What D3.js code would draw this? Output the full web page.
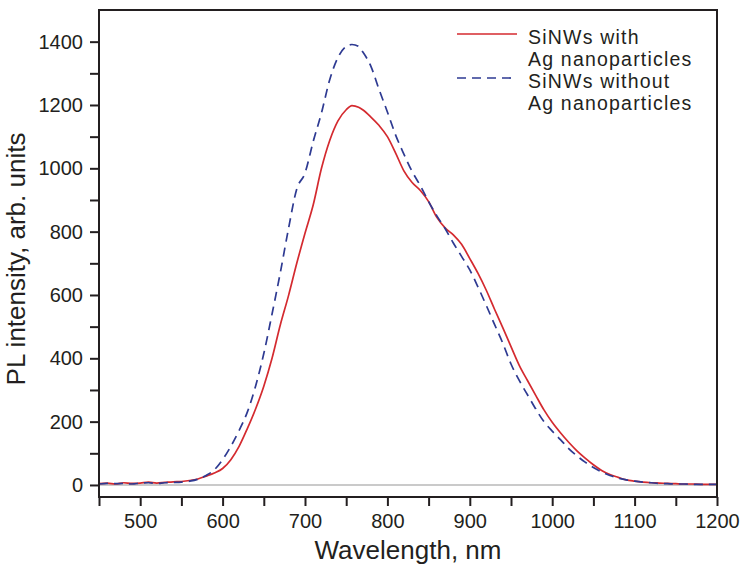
<!DOCTYPE html>
<html>
<head>
<meta charset="utf-8">
<script src="https://cdn.jsdelivr.net/npm/d3@7"></script>
<style>
  html, body { margin: 0; padding: 0; background: #fff; }
  svg { display: block; font-family: "Liberation Sans", Arial, Helvetica, sans-serif; }
</style>
</head>
<body>
<svg id="chart" width="750" height="568"></svg>
<script>
// Wavelength grid (nm)
const wavelengths = [450,460,470,480,490,500,510,520,530,540,550,560,570,580,590,600,610,620,630,640,650,660,670,680,690,700,710,720,730,740,750,757,765,770,780,790,800,810,820,830,840,850,860,870,880,890,900,910,920,930,940,950,960,970,980,990,1000,1010,1020,1030,1040,1050,1060,1070,1080,1090,1100,1110,1120,1130,1140,1150,1160,1170,1180,1190,1200];

// PL intensity, SiNWs with Ag nanoparticles (red solid)
const withAg = [4,6,3,7,5,6,9,6,8,10,11,14,19,28,38,52,80,122,178,240,312,400,505,598,700,795,885,1000,1088,1150,1185,1198,1193,1185,1162,1135,1100,1048,992,955,930,895,845,812,790,760,715,668,615,555,497,437,378,330,283,237,198,165,135,108,85,64,46,33,24,16,12,9,7,6,5,4,3,3,2,2,2];

// PL intensity, SiNWs without Ag nanoparticles (blue dashed)
const withoutAg = [3,5,4,5,3,6,7,5,7,8,9,12,18,30,48,80,122,172,230,312,415,540,670,810,935,985,1085,1175,1280,1350,1385,1391,1385,1368,1322,1248,1178,1105,1045,990,945,895,850,810,764,722,679,625,567,507,448,382,330,285,240,200,170,143,115,92,72,55,41,30,22,16,12,9,7,5,4,3,3,2,2,2,2];

const xTicks = [500,600,700,800,900,1000,1100,1200];
const xMinor = [450,550,650,750,850,950,1050,1150];
const yTicks = [0,200,400,600,800,1000,1200,1400];
const yMinor = [100,300,500,700,900,1100,1300];

const legendLabels = [["SiNWs with", "Ag nanoparticles"], ["SiNWs without", "Ag nanoparticles"]];
const colors = { red: "#d42a2f", blue: "#2e3a92", axis: "#231f20", zero: "#b9b9b9" };

const svg = d3.select("#chart");
const margin = { left: 99, right: 33, top: 10, bottom: 71 };
const W = 750, H = 568;
const x = d3.scaleLinear().domain([450, 1200]).range([margin.left, W - margin.right]);
const y = d3.scaleLinear().domain([-38, 1500]).range([H - margin.bottom, margin.top]);

// zero line
svg.append("line")
  .attr("x1", x(450)).attr("x2", x(1200))
  .attr("y1", y(0)).attr("y2", y(0))
  .attr("stroke", colors.zero).attr("stroke-width", 1.4);

// curves
const dataWith = wavelengths.map((w, i) => [w, withAg[i]]);
const dataWithout = wavelengths.map((w, i) => [w, withoutAg[i]]);
const line = d3.line().x(d => x(d[0])).y(d => y(d[1])).curve(d3.curveMonotoneX);

svg.append("path").datum(dataWith)
  .attr("d", line).attr("fill", "none")
  .attr("stroke", colors.red).attr("stroke-width", 1.7);

svg.append("path").datum(dataWithout)
  .attr("d", line).attr("fill", "none")
  .attr("stroke", colors.blue).attr("stroke-width", 1.7)
  .attr("stroke-dasharray", "9,6");

// axes
const tickLen = 9;
const xAxis = d3.axisBottom(x).tickValues(xTicks).tickSize(tickLen).tickPadding(8).tickFormat(d3.format("d"));
const xAxisMinor = d3.axisBottom(x).tickValues(xMinor).tickSize(tickLen).tickFormat("");
const yAxis = d3.axisLeft(y).tickValues(yTicks).tickSize(tickLen).tickPadding(7).tickFormat(d3.format("d"));
const yAxisMinor = d3.axisLeft(y).tickValues(yMinor).tickSize(tickLen).tickFormat("");

function styleAxis(g) {
  g.select(".domain").remove();
  g.selectAll(".tick line").attr("stroke", colors.axis).attr("stroke-width", 2);
  g.selectAll(".tick text").attr("fill", colors.axis).style("font-size", "20px")
    .style("font-family", "'Liberation Sans', Arial, sans-serif");
}

svg.append("g").attr("transform", `translate(0,${H - margin.bottom})`).call(xAxis).call(styleAxis);
svg.append("g").attr("transform", `translate(0,${H - margin.bottom})`).call(xAxisMinor).call(styleAxis);
svg.append("g").attr("transform", `translate(${margin.left},0)`).call(yAxis).call(styleAxis);
svg.append("g").attr("transform", `translate(${margin.left},0)`).call(yAxisMinor).call(styleAxis);

// frame
svg.append("rect")
  .attr("x", margin.left).attr("y", margin.top)
  .attr("width", W - margin.left - margin.right)
  .attr("height", H - margin.top - margin.bottom)
  .attr("fill", "none").attr("stroke", colors.axis).attr("stroke-width", 2);

// axis titles
svg.append("text")
  .attr("x", (margin.left + W - margin.right) / 2).attr("y", 559)
  .attr("text-anchor", "middle").attr("fill", colors.axis)
  .style("font-size", "26px").text("Wavelength, nm");

svg.append("text")
  .attr("transform", `translate(25,259) rotate(-90)`)
  .attr("text-anchor", "middle").attr("fill", colors.axis)
  .style("font-size", "26px").text("PL intensity, arb. units");

// legend
const legend = svg.append("g");
const legendStyles = [{ color: colors.red, dash: null }, { color: colors.blue, dash: "9,6" }];
const lineGap = 22;
legendLabels.forEach((lines, i) => {
  const by = 44 + i * 2 * lineGap;
  legend.append("line")
    .attr("x1", 457).attr("x2", 517)
    .attr("y1", by - 10).attr("y2", by - 10)
    .attr("stroke", legendStyles[i].color).attr("stroke-width", 1.7)
    .attr("stroke-dasharray", legendStyles[i].dash);
  lines.forEach((s, j) => {
    legend.append("text")
      .attr("x", 528).attr("y", by + j * lineGap)
      .attr("fill", colors.axis)
      .style("font-size", "19.5px")
      .style("letter-spacing", "1.2px")
      .text(s);
  });
});
</script>
</body>
</html>
